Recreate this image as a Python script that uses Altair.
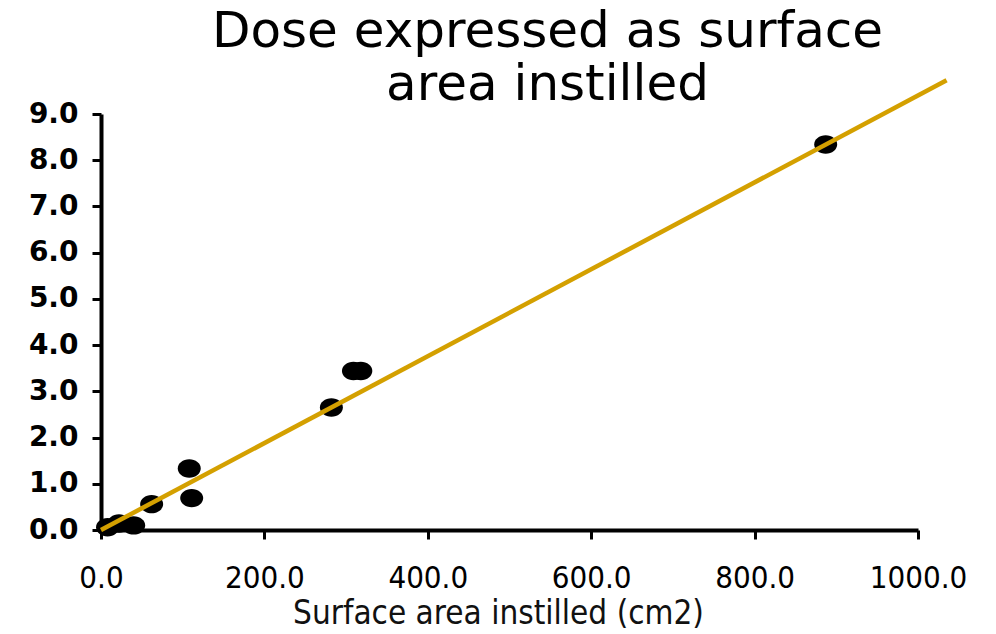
import altair as alt
import pandas as pd

# Measured doses vs. instilled surface area
surface_area = [8, 22, 40, 62, 108, 111, 282, 309, 318, 887]
dose = [0.06, 0.14, 0.10, 0.56, 1.33, 0.69, 2.65, 3.44, 3.44, 8.34]

# Fitted trend line endpoints
fit_x = [0, 1035]
fit_y = [0.0, 9.73]

x_ticks = [0, 200, 400, 600, 800, 1000]
y_ticks = [0, 1, 2, 3, 4, 5, 6, 7, 8, 9]

points = pd.DataFrame({"area": surface_area, "dose": dose})
fit = pd.DataFrame({"area": fit_x, "dose": fit_y})

x_scale = alt.Scale(domain=[0, 1000], nice=False, zero=True)
y_scale = alt.Scale(domain=[0, 9], nice=False, zero=True)

# Slightly flattened dot shape
ellipse = "M-1,0 A1,0.8 0 1,0 1,0 A1,0.8 0 1,0 -1,0 Z"

x_axis = alt.Axis(
    title="Surface area instilled (cm2)",
    values=x_ticks,
    format=".1f",
    grid=False,
    domainColor="black",
    domainWidth=4,
    tickColor="black",
    tickWidth=3,
    tickSize=9,
    labelFont="DejaVu Sans Condensed",
    labelFontSize=31,
    labelColor="black",
    labelPadding=24,
    labelFlush=False,
    titleFont="DejaVu Sans Condensed",
    titleFontSize=33,
    titleFontWeight="normal",
    titleColor="#111111",
    titlePadding=4,
    titleX=397,
)

y_axis = alt.Axis(
    title=None,
    values=y_ticks,
    format=".1f",
    grid=False,
    domainColor="black",
    domainWidth=4,
    tickColor="black",
    tickWidth=3,
    tickSize=9,
    labelFont="DejaVu Sans",
    labelFontSize=28,
    labelFontWeight="bold",
    labelColor="black",
    labelPadding=14,
    labelFlush=False,
)

dots = alt.Chart(points).mark_point(
    shape=ellipse, filled=True, color="black", opacity=1, size=529
).encode(
    x=alt.X("area:Q", scale=x_scale, axis=x_axis),
    y=alt.Y("dose:Q", scale=y_scale, axis=y_axis),
)

trend = alt.Chart(fit).mark_line(color="#D4A000", strokeWidth=4.5, clip=False).encode(
    x=alt.X("area:Q", scale=x_scale),
    y=alt.Y("dose:Q", scale=y_scale),
)

chart = (
    alt.layer(dots, trend)
    .properties(
        width=817,
        height=416,
        padding={"left": 101, "top": 114, "right": 78, "bottom": 104},
        autosize=alt.AutoSizeParams(type="none"),
        view=alt.ViewBackground(strokeOpacity=0, strokeWidth=0),
        title=alt.TitleParams(
            text=["Dose expressed as surface", "area instilled"],
            font="DejaVu Sans",
            fontSize=50,
            fontWeight="normal",
            lineHeight=53,
            color="black",
            anchor="middle",
            dx=38,
            dy=53,
            offset=14,
        ),
    )
    .configure_view(strokeWidth=0, strokeOpacity=0)
    .configure(background="white")
)

chart.save("out.html", embed_options={"renderer": "svg", "actions": False})
